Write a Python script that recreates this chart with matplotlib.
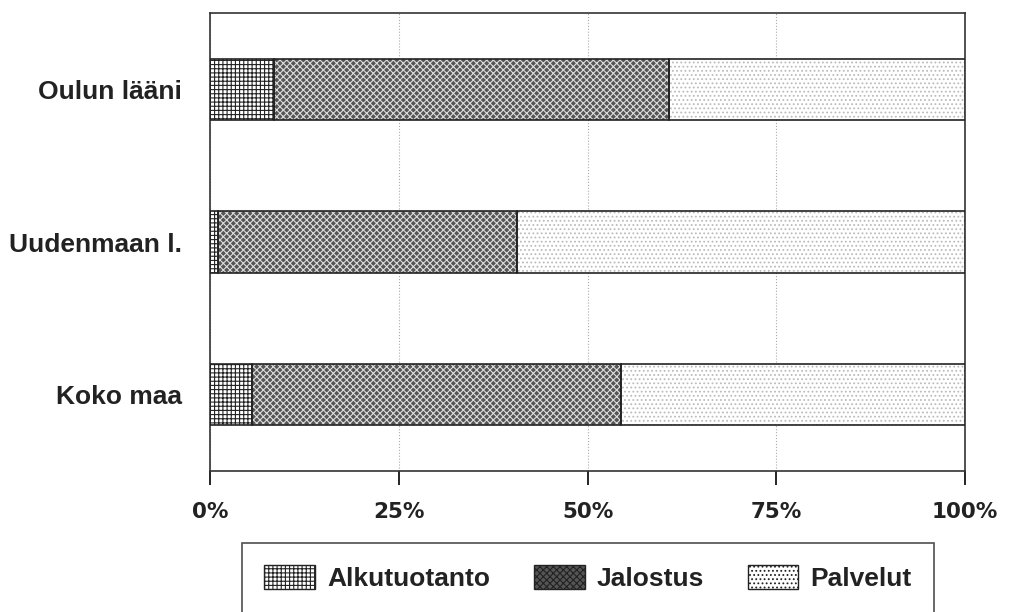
import matplotlib.pyplot as plt
from matplotlib.patches import Patch
import numpy as np

plt.rcParams['font.family'] = ['Liberation Sans', 'DejaVu Sans']
plt.rcParams['hatch.linewidth'] = 0.8

regions = ['Koko maa', 'Uudenmaan l.', 'Oulun lääni']
alkutuotanto = [5.6, 1.1, 8.5]
jalostus = [48.8, 39.6, 52.3]
palvelut = [45.6, 59.3, 39.2]
series_names = ['Alkutuotanto', 'Jalostus', 'Palvelut']
ticks = [0, 25, 50, 75, 100]
tick_labels = ['0%', '25%', '50%', '75%', '100%']

fig = plt.figure(figsize=[10.11, 6.12], dpi=100)
ax = fig.add_axes([210/1011, 1-471/612, 755/1011, 458/612])

y = np.arange(len(regions))
h = 0.4
left = np.zeros(len(regions))
styles = [
    dict(color='white', hatch='++++', edgecolor='#222222'),
    dict(color='#555555', hatch='xxxxx', edgecolor='#dddddd'),
    dict(color='white', hatch='....', edgecolor='#bbbbbb'),
]
for vals, name, st in zip([alkutuotanto, jalostus, palvelut], series_names, styles):
    ax.barh(y, vals, height=h, left=left, label=name, lw=0, zorder=3,
            facecolor=st['color'], hatch=st['hatch'], edgecolor=st['edgecolor'])
    # outline around each segment
    ax.barh(y, vals, height=h, left=left, fill=False, lw=1.2, edgecolor='#222222', zorder=4)
    left += np.array(vals)

ax.set_xlim(0, 100)
ax.set_ylim(-0.5, 2.5)
ax.set_xticks(ticks)
ax.set_xticklabels(tick_labels, fontsize=15.5, fontweight='bold', color='#222222',
                   family='DejaVu Sans')
ax.set_yticks(y)
ax.set_yticklabels(regions, fontsize=19, fontweight='bold', color='#222222')
ax.tick_params(axis='y', length=0, pad=20)
ax.tick_params(axis='x', length=10, width=1.2, pad=12, direction='out')
ax.grid(axis='x', linestyle=':', color='#aaaaaa', lw=0.8, zorder=1)
for s in ax.spines.values():
    s.set_linewidth(1.2)
    s.set_color('#333333')

leg_handles = [Patch(facecolor=st['color'], hatch=st['hatch'], edgecolor='#222222', lw=1.0)
               for st in styles]
leg = fig.legend(leg_handles, series_names, loc='upper left', bbox_to_anchor=(242/1011, 1-543/612),
                 ncol=3, frameon=True, fancybox=False, edgecolor='#222222', borderaxespad=0,
                 prop={'size': 19, 'weight': 'bold'}, handlelength=1.93, handleheight=1.0,
                 columnspacing=1.65, borderpad=0.85, handletextpad=0.45)
leg.get_frame().set_linewidth(1.2)
for t in leg.get_texts():
    t.set_color('#222222')

plt.savefig('out.png', dpi=100)
